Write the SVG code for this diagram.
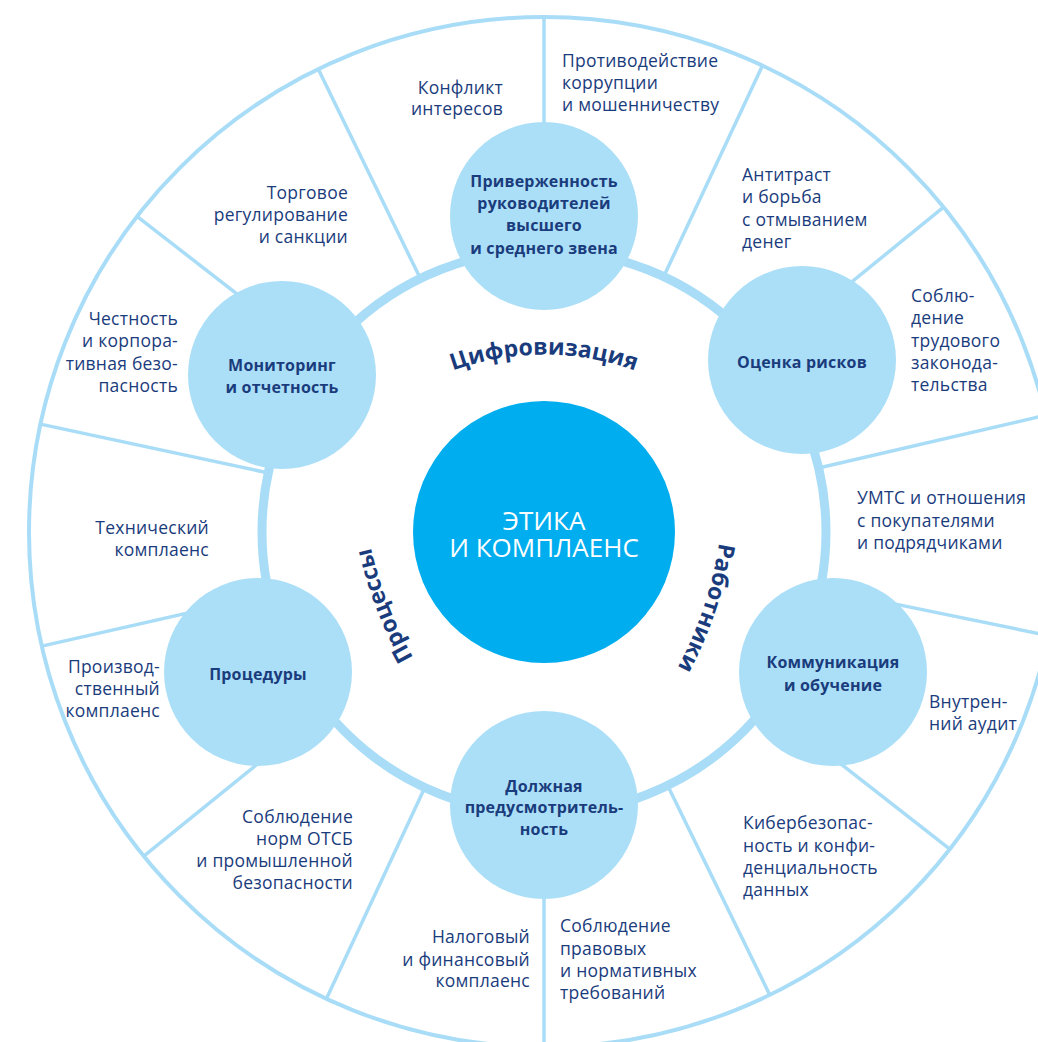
<svg xmlns="http://www.w3.org/2000/svg" width="1038" height="1042" viewBox="0 0 1038 1042">
<style>
.ln{stroke:#a9ddf7;fill:none;stroke-width:3.5}
.ring{stroke:#a9ddf7;fill:none;stroke-width:9}
.outer{stroke:#a9ddf7;fill:none;stroke-width:4}
.node{fill:#abdff8}
.t{font-family:"Open Sans","Noto Sans",sans-serif;font-size:17.5px;letter-spacing:0.25px;fill:#1a3c7c}
.b{font-family:"Open Sans","Noto Sans",sans-serif;font-size:16px;letter-spacing:0.2px;font-weight:700;fill:#1a3c7c;text-anchor:middle}
.r{text-anchor:end}
.c{font-family:"Open Sans","Noto Sans",sans-serif;font-size:26px;font-weight:500;fill:#ffffff;text-anchor:middle}
.arc{font-family:"Open Sans","Noto Sans",sans-serif;font-size:23px;font-weight:700;fill:#1a3c7c}
</style>
<defs>
<path id="pCif" d="M 314 487 A 266 266 0 0 1 774 487"/>
<path id="pProc" d="M 445.5 706 A 400 400 0 0 1 362.5 490"/>
<path id="pRab" d="M 724 491.5 A 400 400 0 0 1 650.5 711.7"/>
</defs>
<rect width="1038" height="1042" fill="#ffffff"/>
<g id="connectors">
<line class="ln" x1="544" y1="249" x2="544" y2="17"/>
<line class="ln" x1="419.9" y1="277.6" x2="318.2" y2="69.1"/>
<line class="ln" x1="664.1" y1="275.7" x2="762.5" y2="65.6"/>
<line class="ln" x1="763.6" y1="353.5" x2="943.6" y2="207.2"/>
<line class="ln" x1="819.6" y1="467.8" x2="1045.6" y2="415.3"/>
<line class="ln" x1="821.2" y1="588.9" x2="1048.5" y2="635.6"/>
<line class="ln" x1="767" y1="706.2" x2="949.8" y2="849.1"/>
<line class="ln" x1="668.1" y1="786.4" x2="769.8" y2="994.9"/>
<line class="ln" x1="544" y1="815" x2="544" y2="1047"/>
<line class="ln" x1="424.4" y1="788.5" x2="326.4" y2="998.7"/>
<line class="ln" x1="324.1" y1="710.1" x2="143.8" y2="856.1"/>
<line class="ln" x1="268" y1="594.7" x2="41.8" y2="646.1"/>
<line class="ln" x1="267.3" y1="472.7" x2="40.4" y2="424.1"/>
<line class="ln" x1="320.4" y1="358.6" x2="137" y2="216.4"/>
<circle class="ring" cx="544" cy="532" r="282"/>
<circle class="outer" cx="544" cy="532" r="515"/>
</g>
<g id="center">
<circle cx="544" cy="532" r="131" fill="#00adee"/>
<text class="c" x="544" y="530">ЭТИКА</text>
<text class="c" x="544" y="557">И КОМПЛАЕНС</text>
</g>
<g id="axis-labels">
<text class="arc"><textPath href="#pCif" startOffset="50%" text-anchor="middle">Цифровизация</textPath></text>
<text class="arc"><textPath href="#pProc" startOffset="50%" text-anchor="middle">Процессы</textPath></text>
<text class="arc"><textPath href="#pRab" startOffset="50%" text-anchor="middle">Работники</textPath></text>
</g>
<g id="node-commitment">
<circle class="node" cx="544" cy="216" r="94"/>
<text class="b" x="544" y="187">Приверженность</text>
<text class="b" x="544" y="209">руководителей</text>
<text class="b" x="544" y="231">высшего</text>
<text class="b" x="544" y="254">и среднего звена</text>
</g>
<g id="node-risk">
<circle class="node" cx="802" cy="360" r="94"/>
<text class="b" x="802" y="368">Оценка рисков</text>
</g>
<g id="node-communication">
<circle class="node" cx="833" cy="672" r="94"/>
<text class="b" x="833" y="668">Коммуникация</text>
<text class="b" x="833" y="691">и обучение</text>
</g>
<g id="node-diligence">
<circle class="node" cx="544" cy="805" r="94"/>
<text class="b" x="544" y="792">Должная</text>
<text class="b" x="544" y="813">предусмотритель-</text>
<text class="b" x="544" y="835">ность</text>
</g>
<g id="node-procedures">
<circle class="node" cx="258" cy="672" r="94"/>
<text class="b" x="258" y="680">Процедуры</text>
</g>
<g id="node-monitoring">
<circle class="node" cx="282" cy="375" r="94"/>
<text class="b" x="282" y="371">Мониторинг</text>
<text class="b" x="282" y="393">и отчетность</text>
</g>
<g id="seg-conflict">
<text class="t r" x="503" y="94">Конфликт</text>
<text class="t r" x="503" y="115">интересов</text>
</g>
<g id="seg-corruption">
<text class="t" x="562" y="67">Противодействие</text>
<text class="t" x="562" y="89">коррупции</text>
<text class="t" x="562" y="111">и мошенничеству</text>
</g>
<g id="seg-antitrust">
<text class="t" x="742" y="181">Антитраст</text>
<text class="t" x="742" y="203">и борьба</text>
<text class="t" x="742" y="226">с отмыванием</text>
<text class="t" x="742" y="248">денег</text>
</g>
<g id="seg-labor">
<text class="t" x="911" y="302">Соблю-</text>
<text class="t" x="911" y="324">дение</text>
<text class="t" x="911" y="347">трудового</text>
<text class="t" x="911" y="369">законода-</text>
<text class="t" x="911" y="391">тельства</text>
</g>
<g id="seg-procurement">
<text class="t" x="857" y="504">УМТС и отношения</text>
<text class="t" x="857" y="527">с покупателями</text>
<text class="t" x="857" y="549">и подрядчиками</text>
</g>
<g id="seg-audit">
<text class="t" x="929" y="708">Внутрен-</text>
<text class="t" x="929" y="730">ний аудит</text>
</g>
<g id="seg-cyber">
<text class="t" x="743" y="829">Кибербезопас-</text>
<text class="t" x="743" y="852">ность и конфи-</text>
<text class="t" x="743" y="874">денциальность</text>
<text class="t" x="743" y="896">данных</text>
</g>
<g id="seg-legal">
<text class="t" x="560" y="932">Соблюдение</text>
<text class="t" x="560" y="955">правовых</text>
<text class="t" x="560" y="977">и нормативных</text>
<text class="t" x="560" y="999">требований</text>
</g>
<g id="seg-tax">
<text class="t r" x="530" y="943">Налоговый</text>
<text class="t r" x="530" y="966">и финансовый</text>
<text class="t r" x="530" y="987">комплаенс</text>
</g>
<g id="seg-hse">
<text class="t r" x="353" y="823">Соблюдение</text>
<text class="t r" x="353" y="845">норм ОТСБ</text>
<text class="t r" x="353" y="867">и промышленной</text>
<text class="t r" x="353" y="889">безопасности</text>
</g>
<g id="seg-production">
<text class="t r" x="160" y="673">Производ-</text>
<text class="t r" x="160" y="695">ственный</text>
<text class="t r" x="160" y="717">комплаенс</text>
</g>
<g id="seg-technical">
<text class="t r" x="209" y="534">Технический</text>
<text class="t r" x="209" y="556">комплаенс</text>
</g>
<g id="seg-integrity">
<text class="t r" x="178" y="325">Честность</text>
<text class="t r" x="178" y="347">и корпора-</text>
<text class="t r" x="178" y="370">тивная безо-</text>
<text class="t r" x="178" y="392">пасность</text>
</g>
<g id="seg-trade">
<text class="t r" x="348" y="199">Торговое</text>
<text class="t r" x="348" y="221">регулирование</text>
<text class="t r" x="348" y="243">и санкции</text>
</g>
</svg>
